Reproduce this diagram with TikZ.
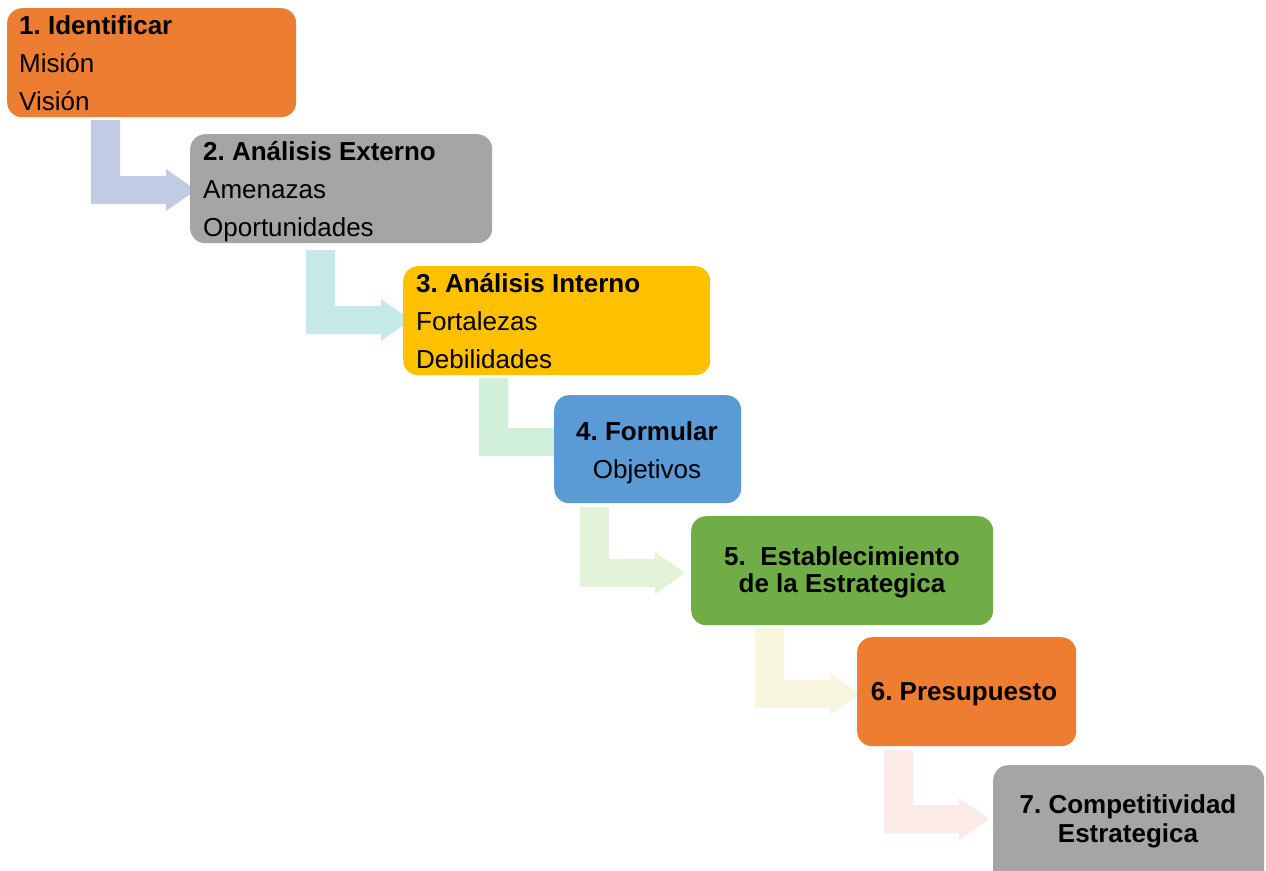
\documentclass[tikz,border=0pt]{standalone}
\usepackage{fontspec}
\setmainfont{Liberation Sans}
\frenchspacing
\begin{document}
\definecolor{cOrange}{RGB}{237,125,49}
\definecolor{cGray}{RGB}{165,165,165}
\definecolor{cGold}{RGB}{255,192,0}
\definecolor{cBlue}{RGB}{91,155,213}
\definecolor{cGreen}{RGB}{112,173,71}
\definecolor{aOne}{RGB}{193,203,228}
\definecolor{aTwo}{RGB}{197,232,232}
\definecolor{aThree}{RGB}{208,240,218}
\definecolor{aFour}{RGB}{226,243,216}
\definecolor{aFive}{RGB}{248,246,222}
\definecolor{aSix}{RGB}{251,234,230}
% bent arrow: colour, left x of the stem, top y of the stem, top y of the arm
\newcommand{\bentarrow}[4]{%
  \fill[#1] (#2,#3) -- (#2+29,#3) -- (#2+29,#4) -- (#2+75,#4) -- (#2+75,#4-7)
    -- (#2+105,#4+14) -- (#2+75,#4+35) -- (#2+75,#4+28) -- (#2,#4+28) -- cycle;}
\begin{tikzpicture}[x=1pt,y=-1pt,
  stepbox/.style={draw=none, rounded corners=15pt, anchor=north west, inner sep=0pt},
  txt/.style={inner sep=0pt, font=\fontsize{26}{30}\selectfont},
  ttl/.style={inner sep=0pt, font=\fontsize{26}{30}\selectfont\bfseries}]
\useasboundingbox (0,0) rectangle (1266,870);
\fill[white] (0,0) rectangle (1266,870);
% connectors between the steps
\bentarrow{aOne}{91}{120}{176}
\bentarrow{aTwo}{306}{250}{306}
\bentarrow{aThree}{479}{378}{428}
\bentarrow{aFour}{580}{507}{559}
\bentarrow{aFive}{755}{628}{680}
\bentarrow{aSix}{884}{750}{805}
% step boxes
\node[stepbox, fill=cOrange, minimum width=289pt, minimum height=109pt] (b1) at (7,8) {};
\node[stepbox, fill=cGray,   minimum width=302pt, minimum height=109pt] (b2) at (190,134) {};
\node[stepbox, fill=cGold,   minimum width=307pt, minimum height=109pt] (b3) at (403,266) {};
\node[stepbox, fill=cBlue,   minimum width=187pt, minimum height=108pt] (b4) at (554,395) {};
\node[stepbox, fill=cGreen,  minimum width=302pt, minimum height=109pt] (b5) at (691,516) {};
\node[stepbox, fill=cOrange, minimum width=219pt, minimum height=109pt] (b6) at (857,637) {};
\node[stepbox, fill=cGray,   minimum width=271pt, minimum height=120pt] (b7) at (993,765) {};
% texts
\node[ttl, anchor=base west] (t1a) at (19,34) {1. Identificar};
\node[txt, anchor=base west] (t1b) at (19,72) {Misión};
\node[txt, anchor=base west] (t1c) at (19,110) {Visión};
\node[ttl, anchor=base west] (t2a) at (203,160) {2. Análisis Externo};
\node[txt, anchor=base west] (t2b) at (203,198) {Amenazas};
\node[txt, anchor=base west] (t2c) at (203,236) {Oportunidades};
\node[ttl, anchor=base west] (t3a) at (416,292) {3. Análisis Interno};
\node[txt, anchor=base west] (t3b) at (416,330) {Fortalezas};
\node[txt, anchor=base west] (t3c) at (416,368) {Debilidades};
\node[ttl, anchor=base] (t4a) at (647,440) {4. Formular};
\node[txt, anchor=base] (t4b) at (647,478) {Objetivos};
\node[ttl, anchor=base] (t5a) at (842,565) {5.\ \ Establecimiento};
\node[ttl, anchor=base] (t5b) at (842,592) {de la Estrategica};
\node[ttl, anchor=base] (t6a) at (964,700) {6. Presupuesto};
\node[ttl, anchor=base] (t7a) at (1128,813) {7. Competitividad};
\node[ttl, anchor=base] (t7b) at (1128,842) {Estrategica};
\end{tikzpicture}
\end{document}
